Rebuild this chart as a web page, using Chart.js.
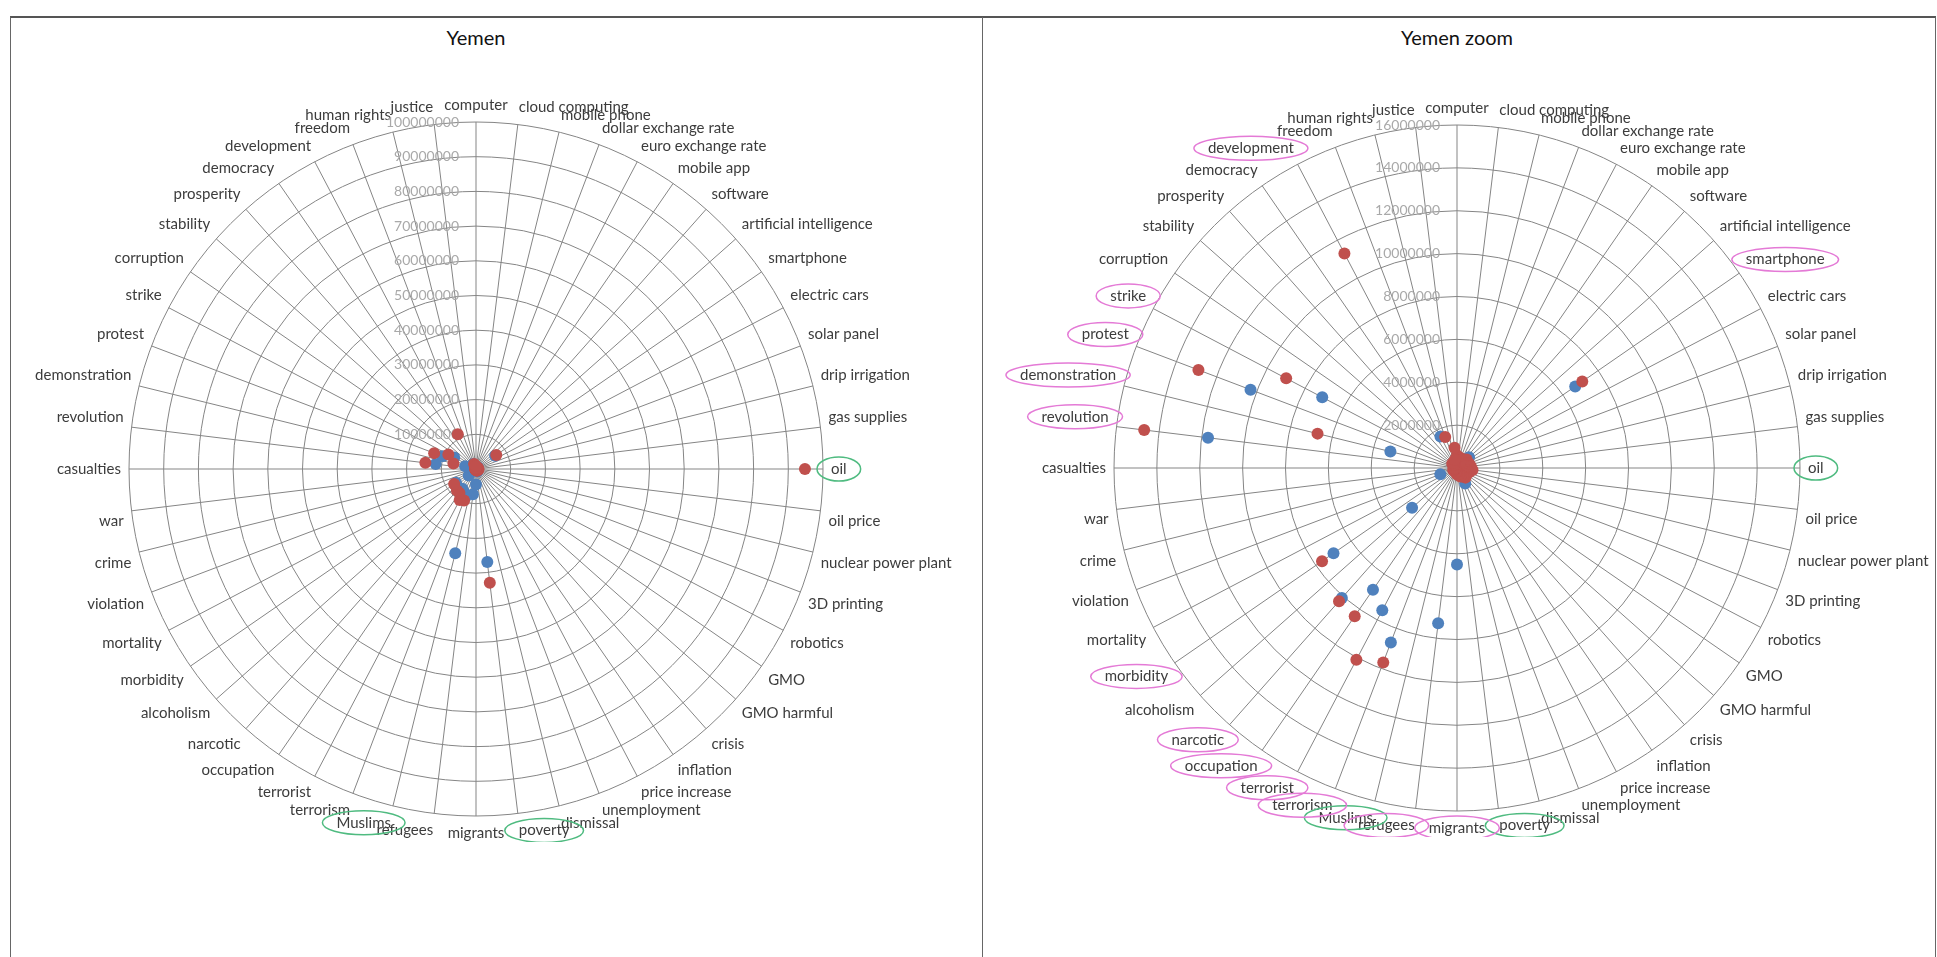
<!DOCTYPE html>
<html>
<head>
<meta charset="utf-8">
<script src="https://cdn.jsdelivr.net/npm/chart.js@4/dist/chart.umd.min.js"></script>
<style>
body { margin:0; width:1937px; height:957px; overflow:hidden; background:#fff; position:relative; font-family: Lato, sans-serif; }
#frame { position:absolute; left:10px; top:16px; width:1926px; height:960px; border-top:2px solid #555; border-left:1px solid #666; border-right:1px solid #666; box-sizing:border-box; }
#divider { position:absolute; left:982px; top:17px; width:1px; height:960px; background:#666; }
.title { position:absolute; top:25px; width:400px; text-align:center; font-size:20px; color:#111; }
canvas { position:absolute; }
</style>
</head>
<body>
<div id="frame"></div>
<div id="divider"></div>
<div class="title" style="left:276px">Yemen</div>
<div class="title" style="left:1257px">Yemen zoom</div>
<canvas id="chartFull" width="1040" height="746" style="left:-44px; top:96px"></canvas>
<canvas id="chartZoom" width="1040" height="738" style="left:937px; top:99px"></canvas>
<script>
var categories = ["computer", "cloud computing", "mobile phone", "dollar exchange rate", "euro exchange rate",
    "mobile app", "software", "artificial intelligence", "smartphone", "electric cars", "solar panel",
    "drip irrigation", "gas supplies", "oil", "oil price", "nuclear power plant", "3D printing", "robotics",
    "GMO", "GMO harmful", "crisis", "inflation", "price increase", "unemployment", "dismissal", "poverty",
    "migrants", "refugees", "Muslims", "terrorism", "terrorist", "occupation", "narcotic", "alcoholism",
    "morbidity", "mortality", "violation", "crime", "war", "casualties", "revolution", "demonstration",
    "protest", "strike", "corruption", "stability", "prosperity", "democracy", "development", "freedom",
    "human rights", "justice"];

// series 1 (blue)
var blueValues = [150000, 100000, 200000, 150000, 100000, 250000, 350000, 750000, 6700000, 100000,
    100000, 50000, 200000, 400000, 300000, 100000, 50000, 100000, 50000, 50000,
    300000, 300000, 820000, 300000, 200000, 27000000, 4500000, 7300000, 25000000, 8700000,
    7500000, 6900000, 8100000, 2800000, 7000000, 150000, 830000, 150000, 100000, 150000,
    11700000, 3200000, 10300000, 7100000, 100000, 100000, 100000, 150000, 1660000, 200000,
    150000, 200000];

// series 2 (red)
var redValues = [600000, 300000, 500000, 400000, 300000, 500000, 400000, 600000, 7100000, 500000,
    600000, 400000, 650000, 94800000, 730000, 500000, 600000, 400000, 500000, 400000,
    600000, 500000, 400000, 430000, 300000, 33000000, 300000, 200000, 200000, 9700000,
    10100000, 8400000, 8300000, 200000, 7650000, 200000, 100000, 150000, 100000, 150000,
    14700000, 6700000, 12900000, 9000000, 200000, 300000, 200000, 300000, 11300000, 1550000,
    400000, 950000];

var scaleMax = [100000000, 16000000];
var scaleStep = [10000000, 2000000];

var greenMarks = ["oil", "Muslims", "poverty"];
var pinkMarks = ["smartphone", "development", "strike", "protest", "demonstration", "revolution",
    "morbidity", "narcotic", "occupation", "terrorist", "terrorism", "refugees", "migrants"];

var tickLabels = {
    id: 'tickLabels',
    beforeDatasetsDraw: function(chart) {
        var s = chart.scales.r;
        var ctx = chart.ctx;
        ctx.save();
        ctx.font = '14px Lato';
        ctx.fillStyle = '#a9a9a9';
        ctx.textAlign = 'right';
        ctx.textBaseline = 'middle';
        s.ticks.forEach(function(t) {
            if (t.value === 0) return;
            var d = s.getDistanceFromCenterForValue(t.value);
            ctx.fillText(String(t.value), s.xCenter - 17, s.yCenter - d);
        });
        ctx.restore();
    }
};

var labelRings = {
    id: 'labelRings',
    afterDraw: function(chart, args, opts) {
        var s = chart.scales.r;
        var ctx = chart.ctx;
        ctx.save();
        ctx.lineWidth = 1.5;
        opts.marks.forEach(function(m) {
            var i = categories.indexOf(m.label);
            var p = s.getPointLabelPosition(i);
            var cx = (p.left + p.right) / 2;
            var cy = (p.top + p.bottom) / 2;
            ctx.strokeStyle = m.color;
            ctx.beginPath();
            ctx.ellipse(cx, cy, (p.right - p.left) / 2 + 14, 12, 0, 0, Math.PI * 2);
            ctx.stroke();
        });
        ctx.restore();
    }
};

function makeChart(id, max, step, marks) {
    var clipVals = function(arr) {
        return arr.map(function(v) { return v > max ? null : v; });
    };
    return new Chart(document.getElementById(id), {
        type: 'radar',
        data: {
            labels: categories,
            datasets: [{
                label: 'series 1',
                data: clipVals(blueValues),
                showLine: false,
                fill: false,
                backgroundColor: 'rgba(0,0,0,0)',
                pointRadius: 6,
                pointBorderWidth: 0,
                pointBackgroundColor: '#4f81bd',
                borderColor: '#4f81bd',
                order: 1
            }, {
                label: 'series 2',
                data: clipVals(redValues),
                showLine: false,
                fill: false,
                backgroundColor: 'rgba(0,0,0,0)',
                pointRadius: 6,
                pointBorderWidth: 0,
                pointBackgroundColor: '#c0504d',
                borderColor: '#c0504d',
                order: 0
            }]
        },
        options: {
            responsive: false,
            animation: false,
            events: [],
            plugins: {
                legend: { display: false },
                tooltip: { enabled: false },
                labelRings: { marks: marks }
            },
            scales: {
                r: {
                    min: 0,
                    max: max,
                    ticks: { stepSize: step, display: false },
                    grid: { circular: true, color: '#858585', lineWidth: 1 },
                    angleLines: { color: '#858585', lineWidth: 1 },
                    pointLabels: {
                        padding: 8,
                        color: '#3c3c3c',
                        font: { family: 'Lato', size: 15 }
                    }
                }
            }
        },
        plugins: [tickLabels, labelRings]
    });
}

var fullMarks = greenMarks.map(function(l) { return { label: l, color: '#4fbb80' }; });
var zoomMarks = fullMarks.concat(pinkMarks.map(function(l) { return { label: l, color: '#e47ad6' }; }));

makeChart('chartFull', scaleMax[0], scaleStep[0], fullMarks);
makeChart('chartZoom', scaleMax[1], scaleStep[1], zoomMarks);
</script>
</body>
</html>
